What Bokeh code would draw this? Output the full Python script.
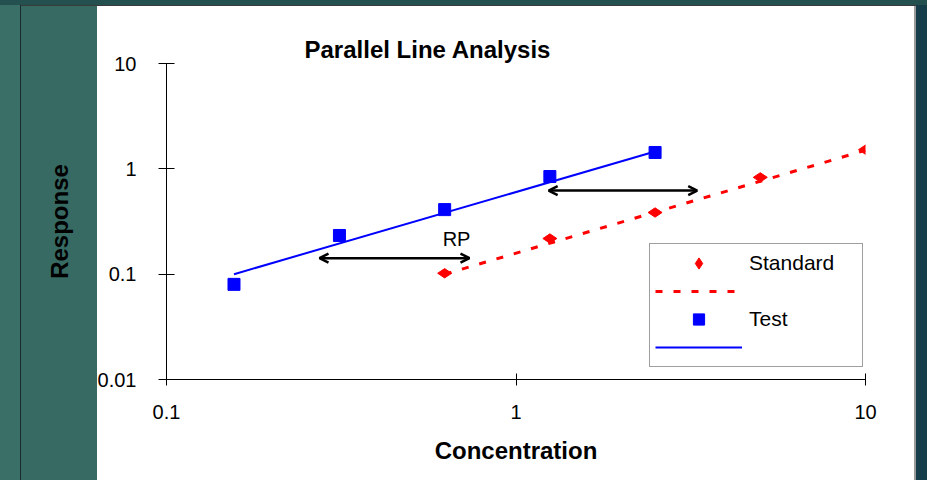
import math
from bokeh.plotting import figure
from bokeh.models import (Legend, LegendItem, Arrow, OpenHead, Label, FixedTicker)
from bokeh.core.properties import value
from bokeh.embed import file_html
from bokeh.resources import INLINE

# ---------------- data ----------------
std_conc = [0.625, 1.25, 2.5, 5.0, 10.0]
std_resp = [0.102, 0.218, 0.385, 0.83, 1.52]
test_conc = [0.156, 0.3125, 0.625, 1.25, 2.5]
test_resp = [0.08, 0.233, 0.41, 0.845, 1.43]

std_fit_conc = [0.625, 10.0]
std_fit_resp = [0.1, 1.5]
test_fit_conc = [0.156, 2.5]
test_fit_resp = [0.1, 1.46]

rp_low_conc = [0.274, 0.736]
rp_low_resp = [0.142, 0.142]
rp_high_conc = [1.24, 3.3]
rp_high_resp = [0.622, 0.622]
rp_label_conc = [0.676]
rp_label_resp = [0.214]

x_ticks = [0.1, 1, 10]
x_tick_labels = ["0.1", "1", "10"]
y_ticks = [0.01, 0.1, 1, 10]
y_tick_labels = ["0.01", "0.1", "1", "10"]

FONT = "Liberation Sans"
W, H = 927, 480

slide_bg = ", ".join([
    "linear-gradient(#1b2b2b, #1b2b2b) 20px 5px / 1px 475px no-repeat",
    "linear-gradient(#3a3a3a, #3a3a3a) 20px 5px / 896px 1px no-repeat",
    "linear-gradient(#24504f, #24504f) 0px 0px / 927px 5px no-repeat",
    "linear-gradient(to right, #3a6f67 0px, #3a6f67 20px, #366a63 20px, #366a63 97px, "
    "#ffffff 97px, #ffffff 914px, "
    "#9a9a9a 914px, #9a9a9a 916px, #153e4a 916px, #153e4a 927px) 0px 0px / 100% 100% no-repeat",
])

p = figure(width=W, height=H, x_axis_type="log", y_axis_type="log",
           x_range=(0.1, 10), y_range=(0.01, 10),
           output_backend="svg", toolbar_location=None,
           min_border_left=166, min_border_right=62,
           min_border_top=63, min_border_bottom=101,
           styles={"background": slide_bg})

p.background_fill_color = "white"
p.border_fill_color = None
p.outline_line_color = None
p.xgrid.visible = False
p.ygrid.visible = False

# faint slide title text showing behind the chart (white: only visible on the teal strip);
# anchored in data space to the left of the plotted range
p.add_layout(Label(x=0.034, y=0.315,
                   text="Response", text_color="white", text_font="Lato",
                   text_font_size="38px", text_baseline="alphabetic",
                   level="annotation"))

# ---------------- title ----------------
p.title.text = "Parallel Line Analysis"
p.title.text_font = FONT
p.title.text_font_size = "24px"
p.title.text_font_style = "bold"
p.title.text_color = "black"
p.title.align = "left"
p.title.offset = 138
p.title.standoff = 1

# ---------------- axes ----------------
for ax in (p.xaxis[0], p.yaxis[0]):
    ax.axis_line_color = "black"
    ax.axis_line_width = 1
    ax.major_tick_line_color = "black"
    ax.minor_tick_line_color = None
    ax.major_label_text_font = FONT
    ax.major_label_text_font_size = "20px"
    ax.major_label_text_color = "black"
    ax.axis_label_text_font = FONT
    ax.axis_label_text_font_size = "24px"
    ax.axis_label_text_font_style = "bold"
    ax.axis_label_text_color = "black"

p.yaxis.level = "overlay"   # keep the axis title above the faint slide text
p.xaxis.ticker = FixedTicker(ticks=x_ticks, minor_ticks=[])
p.yaxis.ticker = FixedTicker(ticks=y_ticks, minor_ticks=[])
p.xaxis.major_label_overrides = dict(zip(x_ticks, x_tick_labels))
p.yaxis.major_label_overrides = dict(zip(y_ticks, y_tick_labels))
p.xaxis.major_tick_in = 6
p.xaxis.major_tick_out = 6
p.yaxis.major_tick_in = 8
p.yaxis.major_tick_out = 8
p.xaxis.major_label_standoff = 19
p.yaxis.major_label_standoff = 22
p.xaxis.axis_label = "Concentration"
p.yaxis.axis_label = "Response"
p.xaxis.axis_label_standoff = 15
p.yaxis.axis_label_standoff = 22

# ---------------- series ----------------
std_fit = p.line(std_fit_conc, std_fit_resp, line_color="#ff0000",
                 line_width=3, line_dash="7 11")
test_fit = p.line(test_fit_conc, test_fit_resp, line_color="#0000ff",
                  line_width=2)
std_pts = p.scatter(std_conc, std_resp, marker="diamond", size=14,
                    angle=math.pi / 2, fill_color="#ff0000", line_color="#ff0000")
test_pts = p.scatter(test_conc, test_resp, marker="square", size=12,
                     fill_color="#0000ff", line_color="#0000ff")

# ---------------- relative potency arrows ----------------
for xs, ys in ((rp_low_conc, rp_low_resp), (rp_high_conc, rp_high_resp)):
    p.add_layout(Arrow(x_start=xs[0], y_start=ys[0], x_end=xs[1], y_end=ys[1],
                       line_color="black", line_width=2.5,
                       start=OpenHead(size=9, line_width=2.5, line_color="black"),
                       end=OpenHead(size=9, line_width=2.5, line_color="black")))

p.add_layout(Label(x=rp_label_conc[0], y=rp_label_resp[0], text="RP",
                   text_font=FONT, text_font_size="20px",
                   text_align="center", text_baseline="middle",
                   text_color="black"))

# ---------------- legend ----------------
legend = Legend(items=[
    LegendItem(label=value("Standard"), renderers=[std_pts]),
    LegendItem(label=value(""), renderers=[std_fit]),
    LegendItem(label=value("Test"), renderers=[test_pts]),
    LegendItem(label=value(""), renderers=[test_fit]),
], location=(483, 12))
legend.glyph_width = 87
legend.glyph_height = 28
legend.label_height = 28
legend.label_width = 108
legend.label_standoff = 7
legend.spacing = 0
legend.padding = 5
legend.margin = 0
legend.label_text_font = FONT
legend.label_text_font_size = "21px"
legend.label_text_color = "black"
legend.border_line_color = "#404040"
legend.border_line_width = 1
legend.background_fill_color = "white"
legend.background_fill_alpha = 1
p.add_layout(legend)

open("out.html", "w").write(file_html(p, INLINE))
